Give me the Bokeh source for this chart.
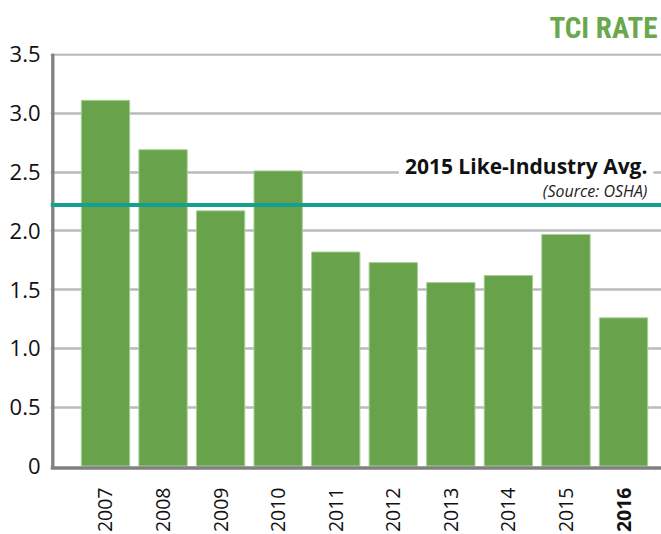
import math
from bokeh.plotting import figure
from bokeh.models import FixedTicker, Span, Label, Range1d
from bokeh.core.properties import value
from bokeh.embed import file_html
from bokeh.resources import INLINE

years = ["2007", "2008", "2009", "2010", "2011", "2012", "2013", "2014", "2015", "2016"]
tci_rate = [3.11, 2.69, 2.17, 2.51, 1.82, 1.73, 1.56, 1.62, 1.97, 1.26]
industry_avg = 2.22
y_ticks = [0, 0.5, 1.0, 1.5, 2.0, 2.5, 3.0, 3.5]
y_tick_labels = ["0", "0.5", "1.0", "1.5", "2.0", "2.5", "3.0", "3.5"]
label_styles = ["normal"] * 9 + ["bold"]

BAR = "#68a34c"
TEAL = "#159f8f"
GRID = "#b9bbbf"
AXIS = "#808080"
FONT = "Open Sans"

xs = list(range(len(years)))
X0, X1 = -0.9555, 9.66
Y0, Y1 = -0.5826, 3.5085
AX = -0.9155  # left axis line (data units)
AY = -0.017   # bottom axis line (data units)

p = figure(width=661, height=534, output_backend="svg", toolbar_location=None,
           x_range=Range1d(X0, X1), y_range=Range1d(Y0, Y1), x_axis_location=None,
           min_border_left=50, min_border_right=0, min_border_bottom=0, min_border_top=53)
p.outline_line_color = None
p.background_fill_color = "white"
p.border_fill_color = "white"

p.vbar(x=xs, top=tci_rate, width=0.84, fill_color=BAR, line_color="#a9cf98", line_width=1)

p.add_layout(Span(location=industry_avg, dimension="width", line_color=TEAL, line_width=4))

# axis lines
p.segment(x0=[AX], y0=[AY], x1=[AX], y1=[Y1], line_color=AXIS, line_width=3.3)
p.segment(x0=[X0], y0=[AY], x1=[X1], y1=[AY], line_color=AXIS, line_width=3.3)

# Title
p.title.text = "TCI RATE"
p.title.align = "right"
p.title.text_color = "#69a84c"
p.title.text_font = "Roboto Condensed, DejaVu Sans Condensed, sans-serif"
p.title.text_font_style = "bold"
p.title.text_font_size = "29px"
p.title.offset = 4
p.title.standoff = 17

# y axis
p.yaxis.ticker = FixedTicker(ticks=y_ticks)
p.yaxis.major_label_overrides = {t: l for t, l in zip(y_ticks, y_tick_labels)}
p.yaxis.major_label_text_font = FONT
p.yaxis.major_label_text_font_size = "22px"
p.yaxis.major_label_text_color = "#111111"
p.yaxis.major_label_standoff = 10
p.yaxis.major_tick_out = 0
p.yaxis.major_tick_in = 0
p.yaxis.major_tick_line_color = None
p.yaxis.minor_tick_line_color = None
p.yaxis.axis_line_color = None

p.xgrid.grid_line_color = None
p.ygrid.ticker = FixedTicker(ticks=y_ticks[1:])
p.ygrid.grid_line_color = GRID
p.ygrid.grid_line_width = 2.5

# x category labels (2016 in bold)
p.text(x=xs, y=[-0.183] * len(xs), text=years, angle=math.pi / 2,
       text_align="right", text_baseline="middle",
       text_font=value(FONT), text_font_style=label_styles, text_font_size="19.5px",
       text_color="#111111")

# annotation for industry average
p.add_layout(Label(x=9.52, y=2.5, text="2015 Like-Industry Avg.", text_align="right",
                   text_baseline="middle", text_font=FONT, text_font_style="bold",
                   text_font_size="21px", text_color="#111111",
                   background_fill_color="white", padding=6, y_offset=6))
p.add_layout(Label(x=9.415, y=2.335, text="(Source: OSHA)", text_align="right",
                   text_baseline="middle", text_font=FONT, text_font_style="italic",
                   text_font_size="16px", text_color="#222222"))

open("out.html", "w").write(file_html(p, INLINE))
